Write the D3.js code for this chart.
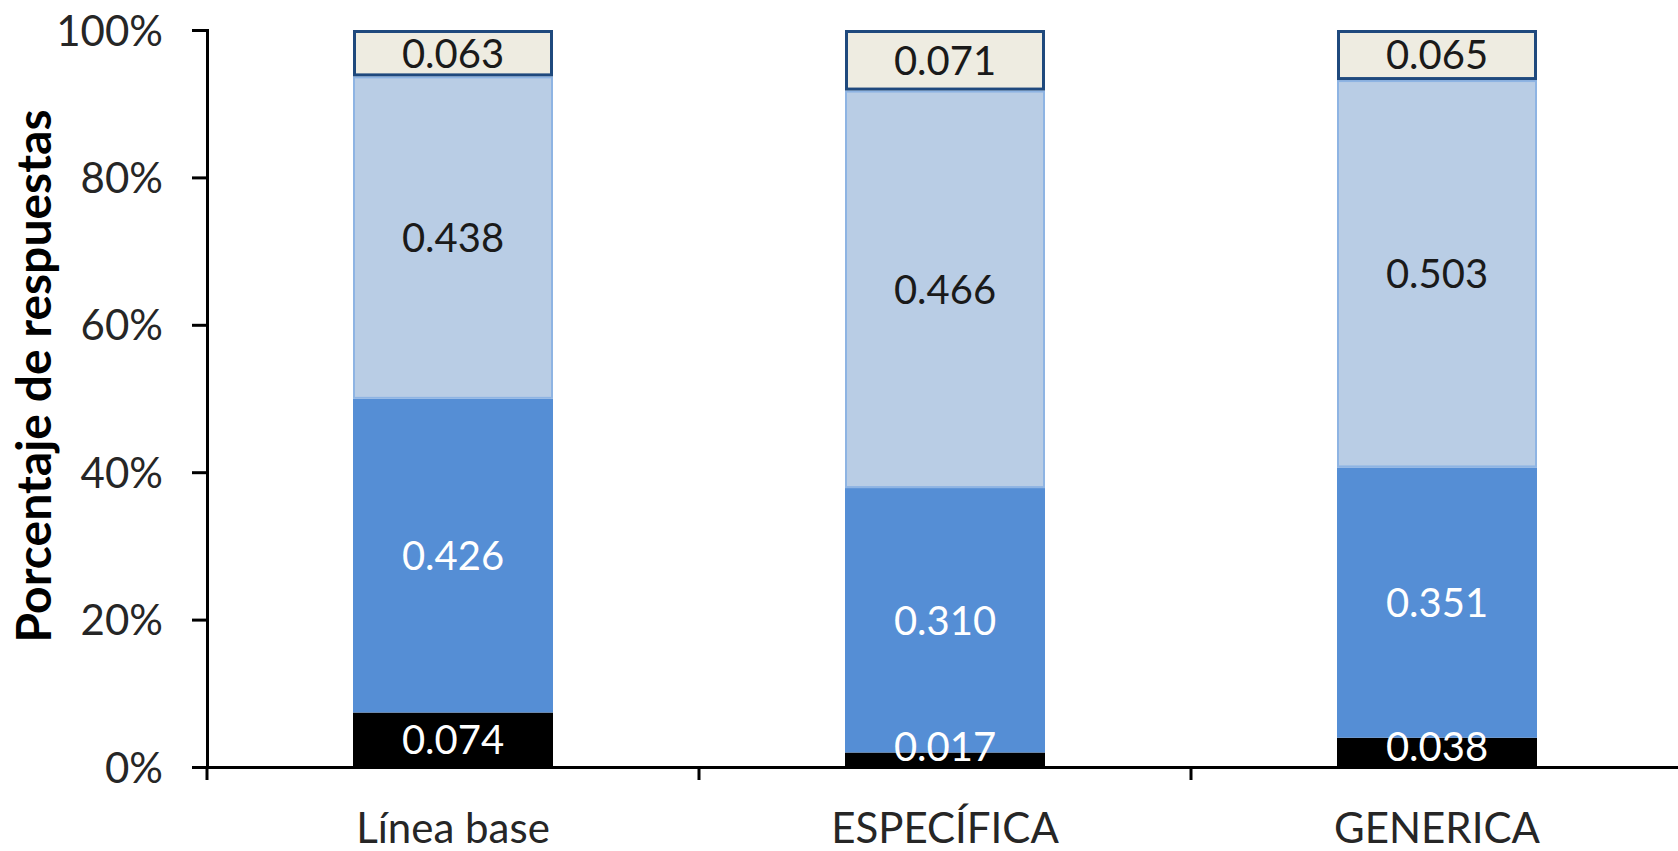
<!DOCTYPE html>
<html>
<head>
<meta charset="utf-8">
<script src="https://cdn.jsdelivr.net/npm/d3@7"></script>
<style>
	html, body { margin: 0; padding: 0; background: #fff; }
	svg { display: block; font-family: Lato, "Open Sans", sans-serif; }
</style>
</head>
<body>
<svg id="drawZone" width="1678" height="851"></svg>
<script>
/************************************ Data *******************************/
var categories = ["Línea base", "ESPECÍFICA", "GENERICA"];
var seriesKeys = ["s1", "s2", "s3", "s4"];
var s1 = [0.074, 0.017, 0.038];   // black, bottom
var s2 = [0.426, 0.310, 0.351];   // blue
var s3 = [0.438, 0.466, 0.503];   // light blue
var s4 = [0.063, 0.071, 0.065];   // cream, top
var yTicks = [0, 0.2, 0.4, 0.6, 0.8, 1];
var yTitle = "Porcentaje de respuestas";

var rows = categories.map(function(c, i) {
	return { cat: c, s1: s1[i], s2: s2[i], s3: s3[i], s4: s4[i] };
});

/************************************ Styles *******************************/
var fills   = { s1: "#000000", s2: "#558ED5", s3: "#B9CDE5", s4: "#EEECE1" };
var strokes = { s1: "none", s2: "none", s3: "#8EB4E3", s4: "#1F497D" };
var strokeW = { s1: 0, s2: 0, s3: 2, s4: 3 };
var textCol = { s1: "#ffffff", s2: "#ffffff", s3: "#1a1a1a", s4: "#1a1a1a" };

/************************************ Scales *******************************/
var svg = d3.select("#drawZone");

var x = d3.scaleBand()
	.domain(categories)
	.range([207, 1683])
	.paddingInner(0.5935)
	.paddingOuter(0.5935 / 2);

var y = d3.scaleLinear().domain([0, 1]).range([767, 30]);

// 100% stacked: heights normalised, labels keep raw values
var stacked = d3.stack().keys(seriesKeys).offset(d3.stackOffsetExpand)(rows);

var segments = [];
stacked.forEach(function(s) {
	s.forEach(function(p) { segments.push({ key: s.key, p: p }); });
});

/************************************ Bars *******************************/
svg.append("g").attr("class", "bars")
	.selectAll("rect")
	.data(segments)
	.enter().append("rect")
	.attr("x", function(d) { return x(d.p.data.cat) + strokeW[d.key] / 2; })
	.attr("width", function(d) { return x.bandwidth() - strokeW[d.key]; })
	.attr("y", function(d) { return y(d.p[1]) + strokeW[d.key] / 2; })
	.attr("height", function(d) { return Math.max(0, y(d.p[0]) - y(d.p[1]) - strokeW[d.key]); })
	.style("fill", function(d) { return fills[d.key]; })
	.style("stroke", function(d) { return strokes[d.key]; })
	.style("stroke-width", function(d) { return strokeW[d.key]; });

// labels on top of every bar segment
svg.append("g").attr("class", "labels")
	.selectAll("text")
	.data(segments)
	.enter().append("text")
	.attr("x", function(d) { return x(d.p.data.cat) + x.bandwidth() / 2; })
	.attr("y", function(d) {
		var mid = (y(d.p[0]) + y(d.p[1])) / 2;
		return Math.min(mid, y(0) - 20);
	})
	.attr("dy", "0.36em")
	.attr("text-anchor", "middle")
	.style("font-size", "40px")
	.style("fill", function(d) { return textCol[d.key]; })
	.text(function(d) { return d3.format(".3f")(d.p.data[d.key]); });

/************************************ Axes *******************************/
var yAxis = svg.append("g")
	.attr("transform", "translate(207,0)")
	.call(d3.axisLeft(y).tickValues(yTicks).tickFormat(d3.format(".0%")).tickSize(15).tickPadding(29));

var xAxis = svg.append("g")
	.attr("transform", "translate(0,767)")
	.call(d3.axisBottom(x).tickSize(0).tickPadding(0).tickFormat(""));

yAxis.attr("font-family", null).attr("font-size", null);
xAxis.attr("font-family", null).attr("font-size", null);

// category boundary ticks
svg.append("g").selectAll("line")
	.data(d3.range(categories.length + 1))
	.enter().append("line")
	.attr("x1", function(i) { return 207 + i * x.step(); })
	.attr("x2", function(i) { return 207 + i * x.step(); })
	.attr("y1", 767).attr("y2", 780)
	.style("stroke", "#000").style("stroke-width", 3);

svg.selectAll(".domain").style("stroke", "#000").style("stroke-width", 3);
yAxis.selectAll(".tick line").style("stroke", "#000").style("stroke-width", 3);
yAxis.selectAll(".tick text")
	.attr("dy", "0.36em")
	.style("font-size", "42px")
	.style("fill", "#262626");
xAxis.selectAll(".tick").remove();

// category labels
svg.append("g").selectAll("text")
	.data(categories)
	.enter().append("text")
	.attr("x", function(c) { return x(c) + x.bandwidth() / 2; })
	.attr("y", 843)
	.attr("text-anchor", "middle")
	.style("font-size", "42px")
	.style("fill", "#262626")
	.text(function(c) { return c; });

// y axis title
svg.append("text")
	.attr("transform", "translate(51,376) rotate(-90)")
	.attr("text-anchor", "middle")
	.style("font-size", "48px")
	.style("font-weight", "bold")
	.style("fill", "#000")
	.text(yTitle);
</script>
</body>
</html>
